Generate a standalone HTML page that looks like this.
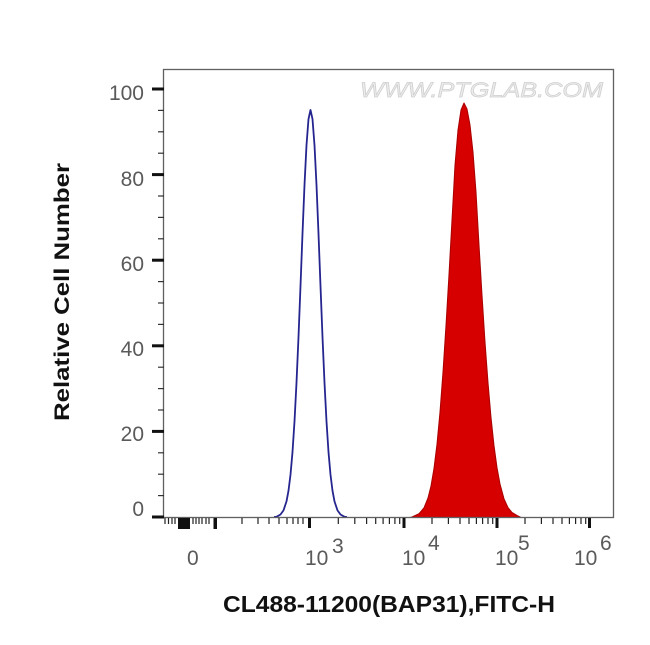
<!DOCTYPE html>
<html>
<head>
<meta charset="utf-8">
<style>
  html, body { margin: 0; padding: 0; background: #ffffff; }
  svg { display: block; }
  text { font-family: "Liberation Sans", Arial, sans-serif; }
</style>
</head>
<body>
<svg width="650" height="645" viewBox="0 0 650 645" xmlns="http://www.w3.org/2000/svg">
  <rect x="0" y="0" width="650" height="645" fill="#ffffff"/>

  <!-- watermark -->
  <text x="360" y="97" font-size="21" font-style="italic" fill="#ececec" stroke="#cfcfcf" stroke-width="0.7" textLength="243" lengthAdjust="spacingAndGlyphs">WWW.PTGLAB.COM</text>

  <!-- red filled histogram -->
  <path d="M410,517.5 L412,517 L419,513.7 L424,507.8 L428,498 L431,486 L434,468.3 L437,444 L440,412 L443,372 L446,325.4 L449,274.5 L452,220 L455,165 L458,130 L461,110 L464,103 L467,109 L470,125 L473,152 L476,192 L479,245 L482,295 L485,342 L488,382.6 L491,417.4 L494,445.6 L497,467.6 L500,484 L504,498.8 L508,507.6 L512,512.4 L518,516 L521,517.5 Z" fill="#d60000" stroke="#a80000" stroke-width="1" stroke-linejoin="round"/>

  <!-- blue histogram outline -->
  <path d="M274,517 L276.5,516.8 L280.5,514.5 L283.5,510.4 L286.5,501.4 L288.5,490.7 L290.5,474.7 L292.5,452 L294.5,421.4 L296.5,382.7 L298.5,337 L300.5,286 L302.5,233.7 L304.5,185 L306.5,145.2 L308.5,119.1 L310.5,110 L312.5,119.1 L314.5,145.2 L316.5,185 L318.5,233.7 L320.5,286 L322.5,337 L324.5,382.7 L326.5,421.4 L328.5,452 L330.5,474.7 L332.5,490.7 L334.5,501.4 L337.5,510.4 L340.5,514.5 L344.5,516.8 L347,517" fill="none" stroke="#25258f" stroke-width="1.8" stroke-linejoin="round"/>

  <!-- frame -->
  <rect x="163.5" y="69.5" width="450" height="448" fill="none" stroke="#606060" stroke-width="1.3"/>

  <!-- Y axis ticks -->
  <g stroke="#111" stroke-width="3">
    <line x1="152" y1="517" x2="164" y2="517"/>
    <line x1="152" y1="431.4" x2="164" y2="431.4"/>
    <line x1="152" y1="345.8" x2="164" y2="345.8"/>
    <line x1="152" y1="260.2" x2="164" y2="260.2"/>
    <line x1="152" y1="174.6" x2="164" y2="174.6"/>
    <line x1="152" y1="89" x2="164" y2="89"/>
  </g>
  <g stroke="#333" stroke-width="1.2">
    <line x1="158" y1="495.6" x2="164" y2="495.6"/>
    <line x1="158" y1="474.2" x2="164" y2="474.2"/>
    <line x1="158" y1="452.8" x2="164" y2="452.8"/>
    <line x1="158" y1="410" x2="164" y2="410"/>
    <line x1="158" y1="388.6" x2="164" y2="388.6"/>
    <line x1="158" y1="367.2" x2="164" y2="367.2"/>
    <line x1="158" y1="324.4" x2="164" y2="324.4"/>
    <line x1="158" y1="303" x2="164" y2="303"/>
    <line x1="158" y1="281.6" x2="164" y2="281.6"/>
    <line x1="158" y1="238.8" x2="164" y2="238.8"/>
    <line x1="158" y1="217.4" x2="164" y2="217.4"/>
    <line x1="158" y1="196" x2="164" y2="196"/>
    <line x1="158" y1="153.2" x2="164" y2="153.2"/>
    <line x1="158" y1="131.8" x2="164" y2="131.8"/>
    <line x1="158" y1="110.4" x2="164" y2="110.4"/>
  </g>

  <!-- Y tick labels -->
  <g font-size="21" fill="#5a5a5a" text-anchor="end">
    <text x="144" y="100">100</text>
    <text x="144" y="186">80</text>
    <text x="144" y="271">60</text>
    <text x="144" y="356">40</text>
    <text x="144" y="441">20</text>
    <text x="144" y="516">0</text>
  </g>

  <!-- X axis ticks: biexponential low region -->
  <g stroke="#222" stroke-width="1.2">
    <line x1="165" y1="518" x2="165" y2="524"/>
    <line x1="168.5" y1="518" x2="168.5" y2="524"/>
    <line x1="172" y1="518" x2="172" y2="524"/>
    <line x1="175" y1="518" x2="175" y2="524"/>
    <line x1="193" y1="518" x2="193" y2="524"/>
    <line x1="196" y1="518" x2="196" y2="524"/>
    <line x1="199" y1="518" x2="199" y2="524"/>
    <line x1="202" y1="518" x2="202" y2="524"/>
    <line x1="206" y1="518" x2="206" y2="524"/>
    <line x1="209" y1="518" x2="209" y2="524"/>
    <line x1="242" y1="518" x2="242" y2="524"/>
    <line x1="258" y1="518" x2="258" y2="524"/>
    <line x1="269" y1="518" x2="269" y2="524"/>
    <line x1="279" y1="518" x2="279" y2="524"/>
    <line x1="287" y1="518" x2="287" y2="524"/>
    <line x1="293" y1="518" x2="293" y2="524"/>
    <line x1="298" y1="518" x2="298" y2="524"/>
    <line x1="303" y1="518" x2="303" y2="524"/>
    <!-- decade 3-4 -->
    <line x1="338.3" y1="518" x2="338.3" y2="524"/>
    <line x1="354.8" y1="518" x2="354.8" y2="524"/>
    <line x1="366.6" y1="518" x2="366.6" y2="524"/>
    <line x1="375.7" y1="518" x2="375.7" y2="524"/>
    <line x1="383.1" y1="518" x2="383.1" y2="524"/>
    <line x1="389.4" y1="518" x2="389.4" y2="524"/>
    <line x1="394.9" y1="518" x2="394.9" y2="524"/>
    <line x1="399.7" y1="518" x2="399.7" y2="524"/>
    <!-- decade 4-5 -->
    <line x1="432" y1="518" x2="432" y2="524"/>
    <line x1="448.4" y1="518" x2="448.4" y2="524"/>
    <line x1="460" y1="518" x2="460" y2="524"/>
    <line x1="469" y1="518" x2="469" y2="524"/>
    <line x1="476.4" y1="518" x2="476.4" y2="524"/>
    <line x1="482.6" y1="518" x2="482.6" y2="524"/>
    <line x1="488" y1="518" x2="488" y2="524"/>
    <line x1="492.7" y1="518" x2="492.7" y2="524"/>
    <!-- decade 5-6 -->
    <line x1="525" y1="518" x2="525" y2="524"/>
    <line x1="541.4" y1="518" x2="541.4" y2="524"/>
    <line x1="553" y1="518" x2="553" y2="524"/>
    <line x1="562" y1="518" x2="562" y2="524"/>
    <line x1="569.4" y1="518" x2="569.4" y2="524"/>
    <line x1="575.6" y1="518" x2="575.6" y2="524"/>
    <line x1="581" y1="518" x2="581" y2="524"/>
    <line x1="585.7" y1="518" x2="585.7" y2="524"/>
  </g>
  <!-- dense block near zero and major ticks -->
  <rect x="178" y="518" width="12" height="11" fill="#111"/>
  <rect x="213.5" y="518" width="3.5" height="11" fill="#111"/>
  <g stroke="#111" stroke-width="3">
    <line x1="309.5" y1="518" x2="309.5" y2="528"/>
    <line x1="404" y1="518" x2="404" y2="528"/>
    <line x1="497" y1="518" x2="497" y2="528"/>
    <line x1="589.5" y1="518" x2="589.5" y2="528"/>
  </g>

  <!-- X tick labels -->
  <g font-size="21" fill="#5a5a5a">
    <text x="187" y="565">0</text>
    <text x="305" y="565">10</text>
    <text x="332" y="553">3</text>
    <text x="402" y="565">10</text>
    <text x="428" y="550">4</text>
    <text x="495" y="565">10</text>
    <text x="518" y="550">5</text>
    <text x="574" y="565">10</text>
    <text x="600" y="550">6</text>
  </g>

  <!-- Axis titles -->
  <text x="223" y="612" font-size="23" font-weight="bold" fill="#111" textLength="332" lengthAdjust="spacingAndGlyphs">CL488-11200(BAP31),FITC-H</text>
  <text transform="translate(69,292) rotate(-90)" x="0" y="0" font-size="21" font-weight="bold" fill="#111" text-anchor="middle" textLength="258" lengthAdjust="spacingAndGlyphs">Relative Cell Number</text>
</svg>
</body>
</html>
